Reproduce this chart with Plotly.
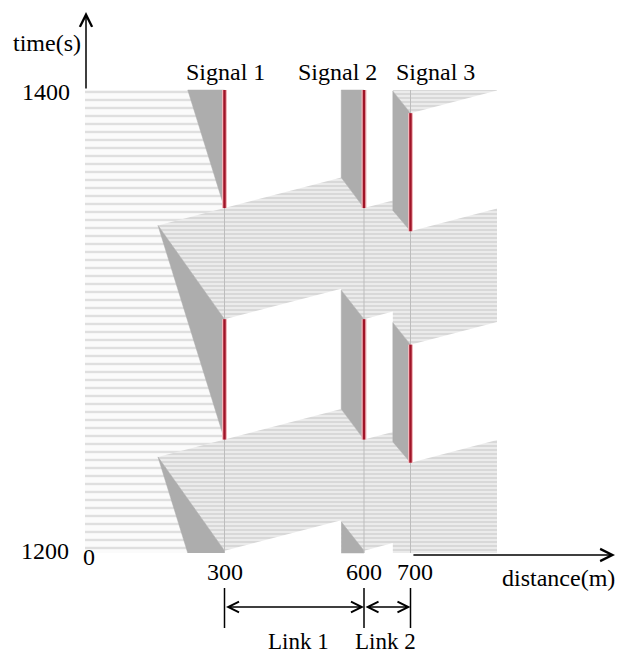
import plotly.graph_objects as go

# ---------------- data ----------------
signal_names = ["Signal 1", "Signal 2", "Signal 3"]
signal_pos = [300, 600, 700]                      # m
red_s1 = [[1249, 1301], [1349, 1400]]             # s
red_s2 = [[1249, 1301], [1349, 1400]]
red_s3 = [[1239, 1290], [1339, 1390]]
x_tick_vals = [0, 300, 600, 700]
y_tick_vals = [1200, 1400]
link_names = ["Link 1", "Link 2"]
link_bounds = [[300, 600], [600, 700]]

# arrival (free-flow, sparse trajectories) region upstream of signal 1
arrival_x = [0, 300, 300, 0]
arrival_t = [1200, 1200, 1400, 1400]

# saturated-flow regions (dense trajectories)
sat_regions = [
    ([157, 300, 300], [1241.5, 1201, 1249]),
    ([157, 300, 300], [1341.5, 1301, 1349]),
    ([300, 551, 551, 600, 600, 662, 662, 886, 886, 700, 662, 662, 600, 551, 300],
     [1201, 1214.2, 1200, 1200, 1201, 1204.3, 1200, 1200, 1248.8, 1239, 1248, 1252.3, 1249, 1262.2, 1249]),
    ([300, 551, 551, 600, 662, 662, 700, 886, 886, 700, 662, 662, 600, 551, 300],
     [1301, 1314.2, 1313.5, 1301, 1304.3, 1299.5, 1290, 1299.8, 1348.8, 1339, 1348, 1352.3, 1349, 1362.2, 1349]),
    ([662, 700, 886, 886, 662], [1399.5, 1390, 1399.8, 1400, 1400]),
]

# queues (stopped vehicles)
queue_regions = [
    ([221, 157, 300, 300], [1200, 1241.5, 1201, 1200]),
    ([300, 157, 300], [1249, 1341.5, 1301]),
    ([300, 221, 300], [1349, 1400, 1400]),
    ([551, 600, 600, 551], [1200, 1200, 1201, 1213.5]),
    ([600, 551, 551, 600], [1249, 1262.2, 1313.5, 1301]),
    ([600, 551, 551, 600], [1349, 1362.2, 1400, 1400]),
    ([700, 662, 662, 700], [1239, 1248, 1299.5, 1290]),
    ([700, 662, 662, 700], [1339, 1348, 1399.5, 1390]),
]

# ---------------- pixel helpers for decorations ----------------
def tx(px):
    return (px - 85) / 0.465

def ty(py):
    return 1400 - (py - 90) / 2.315

FONT = "Liberation Serif"
fig = go.Figure()

# arrival region
fig.add_trace(go.Scatter(
    x=arrival_x, y=arrival_t, fill="toself", mode="lines",
    line=dict(width=0, color="rgba(0,0,0,0)"),
    fillcolor="white",
    fillpattern=dict(shape="-", size=8, solidity=0.3, fgcolor="#c4c4c4", bgcolor="#fbfbfb"),
    hoverinfo="skip"))

for xs, ts in sat_regions:
    fig.add_trace(go.Scatter(
        x=xs, y=ts, fill="toself", mode="lines",
        line=dict(width=0, color="rgba(0,0,0,0)"),
        fillcolor="#e6e6e6",
        fillpattern=dict(shape="-", size=4, solidity=0.45, fgcolor="#c2c2c2", bgcolor="#ebebeb"),
        hoverinfo="skip"))

for xs, ts in queue_regions:
    fig.add_trace(go.Scatter(
        x=xs, y=ts, fill="toself", mode="lines",
        line=dict(width=0.5, color="#adadad"),
        fillcolor="#adadad", hoverinfo="skip"))

# faint stop lines
sx, sy = [], []
for p in signal_pos:
    sx += [p, p, None]
    sy += [1200, 1400, None]
fig.add_trace(go.Scatter(x=sx, y=sy, mode="lines",
                         line=dict(width=1, color="#bdbdbd"), hoverinfo="skip"))

# red phases
rx, ry = [], []
for p, reds in zip(signal_pos, [red_s1, red_s2, red_s3]):
    for a, b in reds:
        rx += [p, p, None]
        ry += [a, b, None]
fig.add_trace(go.Scatter(x=rx, y=ry, mode="lines",
                         line=dict(width=5, color="#f2b8bc"), hoverinfo="skip"))
fig.add_trace(go.Scatter(x=rx, y=ry, mode="lines",
                         line=dict(width=2.5, color="#a01428"), hoverinfo="skip"))

# link dimension bars
bx, by = [], []
for p in signal_pos:
    bx += [p, p, None]
    by += [ty(588), ty(628), None]
fig.add_trace(go.Scatter(x=bx, y=by, mode="lines",
                         line=dict(width=1.5, color="black"), hoverinfo="skip"))

ann = []
def text(s, x, y, size=24):
    ann.append(dict(text=s, x=x, y=y, xref="x", yref="y", showarrow=False,
                    font=dict(family=FONT, size=size, color="black"),
                    xanchor="center", yanchor="middle"))

text("time(s)", tx(47), ty(43))
text(str(y_tick_vals[1]), tx(46), ty(92))
text(str(y_tick_vals[0]), tx(45), ty(551))
tick_px_y = [557, 572, 572, 572]
tick_px_dx = [4, 0, 0, 4]
for v, py, dx in zip(x_tick_vals, tick_px_y, tick_px_dx):
    text(str(v), tx(85 + v * 0.465 + dx), ty(py))
text("distance(m)", tx(558), ty(578))
sig_px = [225, 337, 435]
for name, px in zip(signal_names, sig_px):
    text(name, tx(px), ty(72))
link_px = [298, 385]
for name, px in zip(link_names, link_px):
    text(name, tx(px), ty(641), size=23)

# axis arrows
ann.append(dict(x=tx(86), y=ty(12), ax=tx(86), ay=1400, xref="x", yref="y",
                axref="x", ayref="y", text="", showarrow=True, arrowhead=5,
                arrowsize=1.6, arrowwidth=1.5, arrowcolor="black"))
ann.append(dict(x=tx(615), y=ty(555), ax=703, ay=ty(555), xref="x", yref="y",
                axref="x", ayref="y", text="", showarrow=True, arrowhead=5,
                arrowsize=1.6, arrowwidth=1.5, arrowcolor="black"))
for a, b in link_bounds:
    ann.append(dict(x=b, y=ty(607), ax=a, ay=ty(607), xref="x", yref="y",
                    axref="x", ayref="y", text="", showarrow=True,
                    arrowside="end+start", arrowhead=5, startarrowhead=5,
                    arrowsize=1.4, startarrowsize=1.4, arrowwidth=1.5,
                    arrowcolor="black"))

fig.update_layout(
    width=617, height=655, margin=dict(l=0, r=0, t=0, b=0),
    font=dict(family=FONT),
    xaxis=dict(range=[tx(0), tx(617)], visible=False),
    yaxis=dict(range=[ty(655), ty(0)], visible=False),
    plot_bgcolor="white", paper_bgcolor="white", showlegend=False,
    annotations=ann)

fig.write_html("out.html")
